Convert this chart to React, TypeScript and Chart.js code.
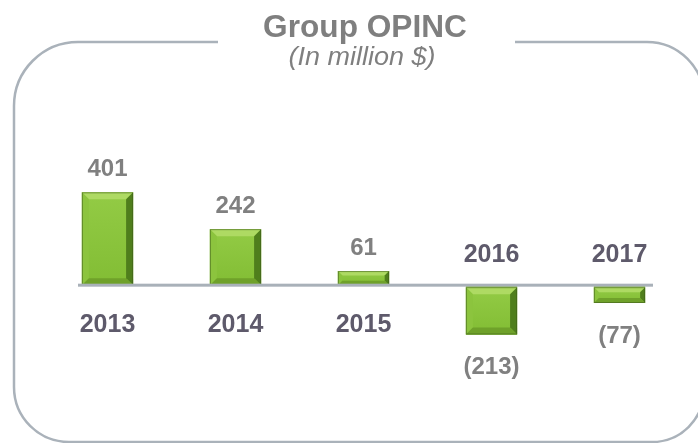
import React, { useEffect, useRef } from "react";
import { Chart, registerables } from "chart.js";

Chart.register(...registerables);

const years: string[] = ["2013", "2014", "2015", "2016", "2017"];
const opinc: number[] = [401, 242, 61, -213, -77];
const titleText = "Group OPINC";
const subtitleText = "(In million $)";

const FONT = '"Liberation Sans", Arial, Helvetica, sans-serif';

function drawText(
  ctx: CanvasRenderingContext2D,
  s: string,
  x: number,
  y: number,
  font: string,
  color: string,
  sx = 1
) {
  ctx.save();
  ctx.translate(x, y);
  ctx.scale(sx, 1);
  ctx.font = font;
  ctx.fillStyle = color;
  ctx.textAlign = "center";
  ctx.textBaseline = "alphabetic";
  ctx.fillText(s, 0, 0);
  ctx.restore();
}

function poly(ctx: CanvasRenderingContext2D, pts: number[][], color: string | CanvasGradient) {
  ctx.beginPath();
  ctx.moveTo(pts[0][0], pts[0][1]);
  for (let i = 1; i < pts.length; i++) ctx.lineTo(pts[i][0], pts[i][1]);
  ctx.closePath();
  ctx.fillStyle = color;
  ctx.fill();
}

const framePlugin = {
  id: "frame",
  beforeDraw(chart: any) {
    const ctx: CanvasRenderingContext2D = chart.ctx;
    ctx.save();
    ctx.fillStyle = "#ffffff";
    ctx.fillRect(0, 0, chart.width, chart.height);
    // rounded frame
    const L = 14, T = 42, R = 704, B = 442;
    const rtl = 64, rtr = 57, rbr = 52, rbl = 55;
    ctx.beginPath();
    ctx.moveTo(L + rtl, T);
    ctx.lineTo(R - rtr, T);
    ctx.arcTo(R, T, R, T + rtr, rtr);
    ctx.lineTo(R, B - rbr);
    ctx.arcTo(R, B, R - rbr, B, rbr);
    ctx.lineTo(L + rbl, B);
    ctx.arcTo(L, B, L, B - rbl, rbl);
    ctx.lineTo(L, T + rtl);
    ctx.arcTo(L, T, L + rtl, T, rtl);
    ctx.closePath();
    ctx.strokeStyle = "#AAB2BA";
    ctx.lineWidth = 2.5;
    ctx.stroke();
    // gap for the title
    ctx.fillStyle = "#ffffff";
    ctx.fillRect(218, T - 4, 515 - 218, 8);
    ctx.restore();
    drawText(ctx, titleText, 365, 37, `bold 31px ${FONT}`, "#7F7F7F", 1.02);
    drawText(ctx, subtitleText, 362, 65, `italic 25px ${FONT}`, "#7F7F7F", 1.08);
  },
  afterDatasetsDraw(chart: any) {
    const ctx: CanvasRenderingContext2D = chart.ctx;
    const meta = chart.getDatasetMeta(0);
    const yScale = chart.scales.y;
    const zeroY = yScale.getPixelForValue(0);
    ctx.save();
    meta.data.forEach((el: any, i: number) => {
      const p = el.getProps(["x", "y", "base", "width"], true);
      const l = p.x - p.width / 2;
      const r = p.x + p.width / 2;
      const t = Math.min(p.y, p.base) + (opinc[i] < 0 ? 2 : 0);
      const b = Math.max(p.y, p.base);
      const h = b - t;
      const d = Math.min(7, h / 3.2);
      const g = ctx.createLinearGradient(0, t, 0, b);
      g.addColorStop(0, "#93CB45");
      g.addColorStop(1, "#82BD34");
      poly(ctx, [[l, t], [r, t], [r, b], [l, b]], g);
      poly(ctx, [[l, t], [r, t], [r - d, t + d], [l + d, t + d]], "#AEDA63");
      poly(ctx, [[l, t], [l + d, t + d], [l + d, b - d], [l, b]], "#8CC43E");
      poly(ctx, [[r, t], [r, b], [r - d, b - d], [r - d, t + d]], "#4F7E1C");
      poly(ctx, [[l, b], [r, b], [r - d, b - d], [l + d, b - d]], "#6FA12A");
      ctx.strokeStyle = "rgba(60,90,25,0.55)";
      ctx.lineWidth = 1;
      ctx.strokeRect(l + 0.5, t + 0.5, r - l - 1, h - 1);

      const v = opinc[i];
      if (v >= 0) {
        drawText(ctx, String(v), p.x, t - 16, `bold 24px ${FONT}`, "#808080");
        drawText(ctx, years[i], p.x, zeroY + 47, `bold 25px ${FONT}`, "#5E5A6B");
      } else {
        drawText(ctx, years[i], p.x, zeroY - 23, `bold 25px ${FONT}`, "#5E5A6B");
        drawText(ctx, `(${Math.abs(v)})`, p.x, b + 40, `bold 24px ${FONT}`, "#808080");
      }
    });
    // zero axis line
    ctx.fillStyle = "#A9B1B9";
    ctx.fillRect(78, zeroY - 1.5, 653 - 78, 3);
    ctx.restore();
  },
};

export default function App() {
  const ref = useRef<HTMLCanvasElement | null>(null);
  useEffect(() => {
    document.body.style.margin = "0";
    const canvas = ref.current;
    if (!canvas) return;
    const chart = new Chart(canvas, {
      type: "bar",
      data: {
        labels: years,
        datasets: [
          {
            data: opinc,
            backgroundColor: "#86C238",
            borderWidth: 0,
            barPercentage: 0.4,
            categoryPercentage: 1,
          },
        ],
      },
      options: {
        animation: false,
        responsive: false,
        devicePixelRatio: 1,
        layout: { padding: { left: 43.5, right: 14.5, top: 100, bottom: 43 } },
        scales: {
          x: { display: false, offset: true },
          y: { display: false, min: -496, max: 800 },
        },
        plugins: {
          legend: { display: false },
          tooltip: { enabled: false },
          title: { display: false },
        },
      },
      plugins: [framePlugin],
    });
    return () => chart.destroy();
  }, []);
  return (
    <div style={{ position: "absolute", left: 0, top: 0, width: 698, height: 443 }}>
      <canvas ref={ref} width={698} height={443} style={{ width: 698, height: 443 }} />
    </div>
  );
}
